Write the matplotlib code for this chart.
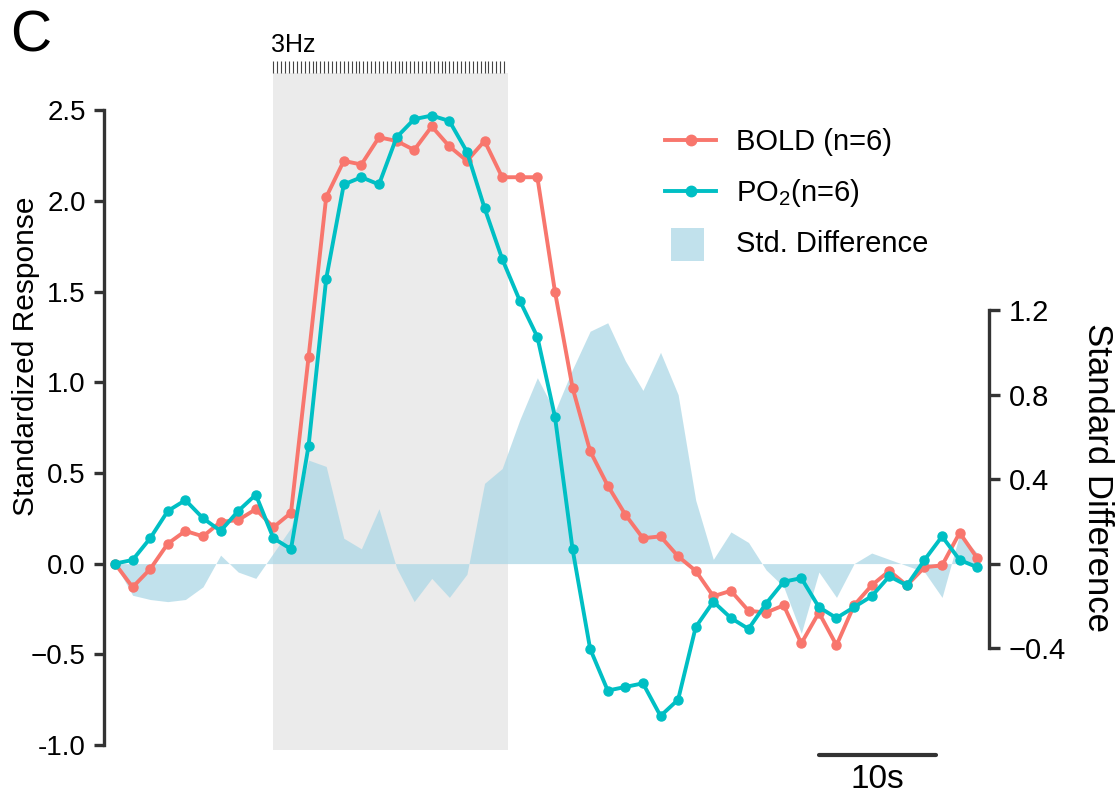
import matplotlib
matplotlib.use("Agg")
import matplotlib.pyplot as plt
import matplotlib.patches as mpatches
from matplotlib.lines import Line2D
from matplotlib.legend_handler import HandlerPatch
import numpy as np

plt.rcParams.update({
    "font.family":      "Liberation Sans",
    "mathtext.fontset": "custom",
    "mathtext.rm":      "Liberation Sans",
    "axes.edgecolor":   "#333333",
    "axes.linewidth":   2.4,
    "xtick.color":      "#333333",
    "ytick.color":      "#333333",
    "xtick.labelcolor": "black",
    "ytick.labelcolor": "black",
})

RED = "#F8766D"
TEAL = "#00BFC4"
AREA = "#ADD8E6"
BOX = "#EBEBEB"
INK = "#333333"

# ─── data ────────────────────────────────────────────────────────────────────
TR = 1.5  # s per sample
bold = [0.00, -0.13, -0.03, 0.11, 0.18, 0.15, 0.23, 0.24, 0.30, 0.20,
        0.28, 1.14, 2.02, 2.22, 2.20, 2.35, 2.33, 2.28, 2.41, 2.30,
        2.22, 2.33, 2.13, 2.13, 2.13, 1.50, 0.97, 0.62, 0.43, 0.27,
        0.14, 0.15, 0.04, -0.04, -0.18, -0.15, -0.26, -0.27, -0.23, -0.44,
        -0.27, -0.45, -0.23, -0.12, -0.04, -0.12, -0.02, -0.01, 0.17, 0.03]
po2 = [0.00, 0.02, 0.14, 0.29, 0.35, 0.25, 0.18, 0.29, 0.38, 0.14,
       0.08, 0.65, 1.57, 2.09, 2.13, 2.09, 2.35, 2.45, 2.47, 2.44,
       2.27, 1.96, 1.68, 1.45, 1.25, 0.81, 0.08, -0.47, -0.70, -0.68,
       -0.66, -0.84, -0.75, -0.35, -0.21, -0.30, -0.36, -0.22, -0.10, -0.08,
       -0.24, -0.30, -0.24, -0.18, -0.07, -0.12, 0.02, 0.15, 0.02, -0.02]
std_diff = [0.00, -0.15, -0.17, -0.18, -0.17, -0.11, 0.04, -0.04, -0.07, 0.05,
            0.17, 0.49, 0.46, 0.12, 0.07, 0.26, -0.02, -0.18, -0.07, -0.16,
            -0.05, 0.38, 0.45, 0.68, 0.88, 0.72, 0.92, 1.10, 1.14, 0.96,
            0.82, 1.00, 0.80, 0.30, 0.02, 0.15, 0.10, -0.03, -0.11, -0.33,
            -0.04, -0.16, 0.00, 0.05, 0.02, -0.01, -0.04, -0.16, 0.14, 0.05]

stim_on, stim_off = 13.5, 33.5   # s
stim_hz = 3
scalebar = (60.0, 70.0)          # 10 s

left_ticks = [-1.0, -0.5, 0.0, 0.5, 1.0, 1.5, 2.0, 2.5]
left_labels = ["-1.0", "\u22120.5", "0.0", "0.5", "1.0", "1.5", "2.0", "2.5"]
right_ticks = [-0.4, 0.0, 0.4, 0.8, 1.2]
right_labels = ["\u22120.4", "0.0", "0.4", "0.8", "1.2"]

time = np.arange(len(bold)) * TR


class SquareHandler(HandlerPatch):
    def create_artists(self, legend, orig_handle, xdescent, ydescent,
                       width, height, fontsize, trans):
        s = height * 1.6
        p = mpatches.Rectangle((-xdescent + (width - s) / 2 - 2,
                                -ydescent + (height - s) / 2 - 2),
                               s, s, facecolor=orig_handle.get_facecolor(),
                               edgecolor="none", transform=trans)
        return [p]


fig = plt.figure(figsize=(11.17, 7.94), dpi=100)
ax = fig.add_axes([104 / 1117, 1 - 752 / 794, 885 / 1117, 714 / 794])
ax2 = ax.twinx()
ax.set_zorder(ax2.get_zorder() + 1)
ax.patch.set_visible(False)

ax.set_xlim(-0.94, 74.5)
ax.set_ylim(-1.0386, 2.8975)
ax2.set_ylim(-0.8918, 2.488)

# stimulus block + pulses
ax2.axvspan(stim_on, stim_off, ymin=0.003, ymax=0.951, color=BOX, lw=0, zorder=0)
pulses = np.arange(stim_on, stim_off, 1 / stim_hz)
ax2.vlines(pulses, 0.951, 0.968, transform=ax2.get_xaxis_transform(),
           color="#444444", lw=0.8)
ax2.text(stim_on - 0.2, 0.973, "3Hz", transform=ax2.get_xaxis_transform(),
         ha="left", va="bottom", fontsize=18)

# standardized difference (right axis)
ax2.fill_between(time, 0, std_diff, color=AREA, alpha=0.75, lw=0, zorder=1)

# responses (left axis)
ax.plot(time, bold, color=RED, lw=2.8, marker="o", ms=6.5, zorder=3)
ax.plot(time, po2, color=TEAL, lw=2.8, marker="o", ms=6.5, zorder=4)

# axes styling
for a in (ax, ax2):
    for s in ("top", "bottom"):
        a.spines[s].set_visible(False)
    a.set_xticks([])
ax.spines["right"].set_visible(False)
ax2.spines["left"].set_visible(False)
ax.spines["left"].set_bounds(-1.0, 2.5)
ax2.spines["right"].set_bounds(-0.4, 1.2)
ax.set_yticks(left_ticks, left_labels)
ax2.set_yticks(right_ticks, right_labels)
ax.tick_params(axis="y", length=7, width=2.4, pad=6, labelsize=20)
ax2.tick_params(axis="y", length=8, width=2.4, pad=6, labelsize=21)

fig.text(26 / 1117, 1 - 356 / 794, "Standardized Response", rotation=90,
         ha="center", va="center", fontsize=21.5)
fig.text(1098 / 1117, 1 - 477 / 794, "Standard Difference", rotation=270,
         ha="center", va="center", fontsize=25)
fig.text(10 / 1117, 1 - 52 / 794, "C", ha="left", va="baseline", fontsize=41)

# scale bar
ax.plot(scalebar, [-1.053, -1.053], color=INK, lw=3, clip_on=False,
        solid_capstyle="round")
ax.text(np.mean(scalebar), -1.105, "10s", ha="center", va="top", fontsize=24)

handles = [
    Line2D([], [], color=RED, lw=2.8, marker="o", ms=7.5),
    Line2D([], [], color=TEAL, lw=2.8, marker="o", ms=7.5),
    mpatches.Patch(facecolor=AREA, alpha=0.75),
]
labels = ["BOLD (n=6)", "PO$_\\mathregular{2}$(n=6)", "Std. Difference"]
ax.legend(handles, labels, loc="upper left",
          bbox_to_anchor=(665 / 1117, 1 - 128 / 794),
          bbox_transform=fig.transFigure, frameon=False, fontsize=21,
          handlelength=1.75, handletextpad=0.7, labelspacing=0.72,
          borderpad=0, borderaxespad=0,
          handler_map={mpatches.Patch: SquareHandler()})

fig.savefig("out.png", dpi=100)
